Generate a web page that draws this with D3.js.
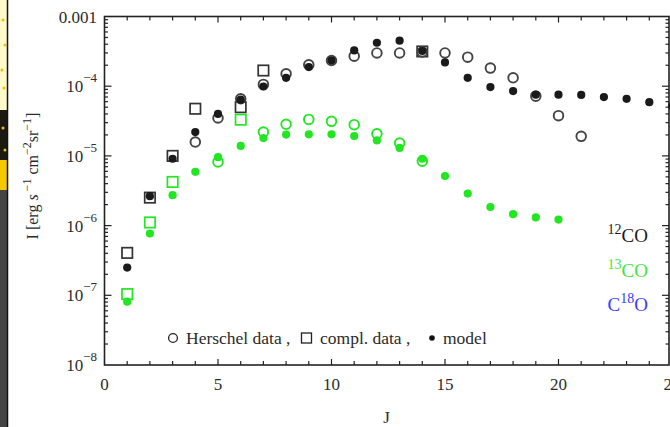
<!DOCTYPE html>
<html>
<head>
<meta charset="utf-8">
<script src="https://cdn.jsdelivr.net/npm/d3@7"></script>
<style>
  html, body { margin: 0; padding: 0; background: #fff; }
  svg { display: block; }
  text { font-family: "Liberation Serif", "DejaVu Serif", serif; fill: #2b2b2b; }
</style>
</head>
<body>
<div id="chart"></div>
<script>
// CO ladder intensities, one array per species and data source
const co12Herschel = [
  [4, 1.58e-5], [5, 3.5e-5], [6, 6.6e-5], [7, 1.06e-4], [8, 1.51e-4], [9, 2.03e-4],
  [10, 2.34e-4], [11, 2.7e-4], [12, 3.0e-4], [13, 3.0e-4], [14, 3.1e-4], [15, 3.0e-4],
  [16, 2.61e-4], [17, 1.82e-4], [18, 1.32e-4], [19, 7.2e-5], [20, 3.78e-5], [21, 1.91e-5]
];
const co12Compl = [
  [1, 4.06e-7], [2, 2.52e-6], [3, 1.0e-5], [4, 4.75e-5], [6, 5.0e-5], [7, 1.68e-4], [14, 3.15e-4]
];
const co12Model = [
  [1, 2.5e-7], [2, 2.64e-6], [3, 9.1e-6], [4, 2.2e-5], [5, 4.0e-5], [6, 6.4e-5],
  [7, 9.9e-5], [8, 1.32e-4], [9, 1.88e-4], [10, 2.34e-4], [11, 3.26e-4], [12, 4.2e-4],
  [13, 4.5e-4], [14, 3.2e-4], [15, 2.19e-4], [16, 1.32e-4], [17, 9.7e-5], [18, 8.5e-5],
  [19, 7.55e-5], [20, 7.55e-5], [21, 7.5e-5], [22, 6.98e-5], [23, 6.6e-5], [24, 5.9e-5],
  [25, 5.2e-5]
];
const co13Herschel = [
  [5, 8.2e-6], [7, 2.2e-5], [8, 2.84e-5], [9, 3.34e-5], [10, 3.13e-5], [11, 2.81e-5],
  [12, 2.08e-5], [13, 1.53e-5], [14, 8.4e-6]
];
const co13Compl = [[1, 1.04e-7], [2, 1.11e-6], [3, 4.23e-6], [6, 3.31e-5]];
const co13Model = [
  [1, 8.1e-8], [2, 7.7e-7], [3, 2.73e-6], [4, 5.9e-6], [5, 9.6e-6], [6, 1.39e-5],
  [7, 1.8e-5], [8, 2.02e-5], [9, 2.04e-5], [10, 2.04e-5], [11, 1.93e-5], [12, 1.67e-5],
  [13, 1.3e-5], [14, 9.1e-6], [15, 5.15e-6], [16, 2.88e-6], [17, 1.85e-6], [18, 1.46e-6],
  [19, 1.31e-6], [20, 1.22e-6]
];

const xTickValues = [0, 5, 10, 15, 20, 25];
const yTickValues = [1e-8, 1e-7, 1e-6, 1e-5, 1e-4, 1e-3];
const yTickExps = ['-8', '-7', '-6', '-5', '-4', null];

const width = 670, height = 427;
const black = '#1a1a1a', green = '#22e622', greenText = '#3ce83c', blue = '#3a3aff';

const svg = d3.select('#chart').append('svg')
  .attr('width', width).attr('height', height);

// cropped neighbour image on the far left
const strip = svg.append('g');
strip.append('rect').attr('x', 0).attr('y', 0).attr('width', 7).attr('height', 110).attr('fill', '#fffbc8');
strip.append('rect').attr('x', 0).attr('y', 110).attr('width', 7).attr('height', 50).attr('fill', '#1c1a10');
strip.append('rect').attr('x', 0).attr('y', 160).attr('width', 7).attr('height', 30).attr('fill', '#f5c800');
strip.append('rect').attr('x', 0).attr('y', 190).attr('width', 7).attr('height', height - 190).attr('fill', '#444');
[[3, 20], [5, 45], [2, 70], [4, 88], [3, 128], [5, 150]].forEach(([cx, cy]) => {
  strip.append('circle').attr('cx', cx).attr('cy', cy).attr('r', 1.5).attr('fill', '#f0c000');
});
strip.append('line').attr('x1', 7.5).attr('x2', 7.5).attr('y1', 0).attr('y2', height)
  .attr('stroke', '#111').attr('stroke-width', 1.5);

const plotLeft = 104.5, plotRight = 669, plotTop = 16.5, plotBottom = 365;

const x = d3.scaleLinear().domain([0, 25]).range([plotLeft, 672]);
const y = d3.scaleLog().domain([1e-8, 1e-3]).range([plotBottom, plotTop]);

// frame
svg.append('rect')
  .attr('x', plotLeft).attr('y', plotTop)
  .attr('width', plotRight - plotLeft).attr('height', plotBottom - plotTop)
  .attr('fill', 'none').attr('stroke', '#222').attr('stroke-width', 1.6);

// inward ticks, every integer J on bottom and top
const ticks = svg.append('g').attr('stroke', '#222').attr('stroke-width', 1.2);
d3.range(1, 25).forEach(j => {
  const len = j % 5 === 0 ? 6 : 4;
  ticks.append('line').attr('x1', x(j)).attr('x2', x(j)).attr('y1', plotBottom).attr('y2', plotBottom - len);
  ticks.append('line').attr('x1', x(j)).attr('x2', x(j)).attr('y1', plotTop).attr('y2', plotTop + len);
});

// log ticks on left and right
const decades = d3.range(-8, -3);
decades.forEach(e => {
  d3.range(1, 10).forEach(m => {
    const v = m * Math.pow(10, e);
    const len = m === 1 ? 7 : 3.5;
    if (m === 1 && e === -8) return;
    ticks.append('line').attr('x1', plotLeft).attr('x2', plotLeft + len).attr('y1', y(v)).attr('y2', y(v));
    ticks.append('line').attr('x1', plotRight).attr('x2', plotRight - len).attr('y1', y(v)).attr('y2', y(v));
  });
});

// x tick labels
svg.append('g').selectAll('text').data(xTickValues).join('text')
  .attr('x', d => x(d)).attr('y', 390)
  .attr('text-anchor', 'middle').attr('font-size', 17)
  .text(d => d);

// y tick labels
const yl = svg.append('g').selectAll('text').data(yTickValues).join('text')
  .attr('x', 97).attr('y', d => y(d) + 6)
  .attr('text-anchor', 'end').attr('font-size', 17);
yl.each(function (d, i) {
  const t = d3.select(this);
  if (yTickExps[i] === null) {
    t.text('0.001');
  } else {
    t.append('tspan').text('10');
    t.append('tspan').attr('dy', -10).attr('font-size', 13).text('\u2212' + yTickExps[i].slice(1));
  }
});

// axis titles
svg.append('text').attr('x', 386.5).attr('y', 423).attr('text-anchor', 'middle')
  .attr('font-size', 17).text('J');

const ylab = svg.append('text')
  .attr('transform', 'translate(38,176) rotate(-90)')
  .attr('text-anchor', 'middle').attr('font-size', 16);
ylab.append('tspan').text('I [erg ');
ylab.append('tspan').attr('font-style', 'italic').text('s');
ylab.append('tspan').attr('dy', -7).attr('font-size', 12).text(' \u22121');
ylab.append('tspan').attr('dy', 7).text(' cm');
ylab.append('tspan').attr('dy', -7).attr('font-size', 12).text('\u22122');
ylab.append('tspan').attr('dy', 7).text('sr');
ylab.append('tspan').attr('dy', -7).attr('font-size', 12).text('\u22121');
ylab.append('tspan').attr('dy', 7).text(']');

// markers
const marks = svg.append('g');

function squares(data, color) {
  marks.append('g').selectAll('rect').data(data).join('rect')
    .attr('x', d => x(d[0]) - 5.2).attr('y', d => y(d[1]) - 5.2)
    .attr('width', 10.4).attr('height', 10.4)
    .attr('fill', 'none').attr('stroke', color).attr('stroke-width', 1.7);
}
function rings(data, color) {
  marks.append('g').selectAll('circle').data(data).join('circle')
    .attr('cx', d => x(d[0])).attr('cy', d => y(d[1])).attr('r', 4.8)
    .attr('fill', 'none').attr('stroke', color).attr('stroke-width', 1.9);
}
function dots(data, color) {
  marks.append('g').selectAll('circle').data(data).join('circle')
    .attr('cx', d => x(d[0])).attr('cy', d => y(d[1])).attr('r', 4.1)
    .attr('fill', color);
}

squares(co12Compl, '#333');
rings(co12Herschel, '#444');
dots(co12Model, black);
squares(co13Compl, green);
rings(co13Herschel, green);
dots(co13Model, green);

// legend line
const leg = svg.append('g');
leg.append('circle').attr('cx', 173).attr('cy', 338).attr('r', 4.4)
  .attr('fill', 'none').attr('stroke', '#222').attr('stroke-width', 1.3);
leg.append('text').attr('x', 186).attr('y', 344).attr('font-size', 17.5).text('Herschel data ,');
leg.append('rect').attr('x', 301.5).attr('y', 333).attr('width', 10).attr('height', 10)
  .attr('fill', 'none').attr('stroke', '#222').attr('stroke-width', 1.3);
leg.append('text').attr('x', 320).attr('y', 344).attr('font-size', 17.5).text('compl. data ,');
leg.append('circle').attr('cx', 432).attr('cy', 338).attr('r', 2.8).attr('fill', '#111');
leg.append('text').attr('x', 443).attr('y', 344).attr('font-size', 17.5).text('model');

// species labels
const species = [
  { pre: '', sup: '12', post: 'CO', color: black, yb: 242 },
  { pre: '', sup: '13', post: 'CO', color: greenText, yb: 277 },
  { pre: 'C', sup: '18', post: 'O', color: blue, yb: 311 }
];
species.forEach(s => {
  const t = svg.append('text').attr('x', 648).attr('y', s.yb)
    .attr('text-anchor', 'end').attr('font-size', 19).style('fill', s.color);
  if (s.pre) t.append('tspan').text(s.pre);
  t.append('tspan').attr('dy', -8).attr('font-size', 14).text(s.sup);
  t.append('tspan').attr('dy', 8).text(s.post);
});
</script>
</body>
</html>
